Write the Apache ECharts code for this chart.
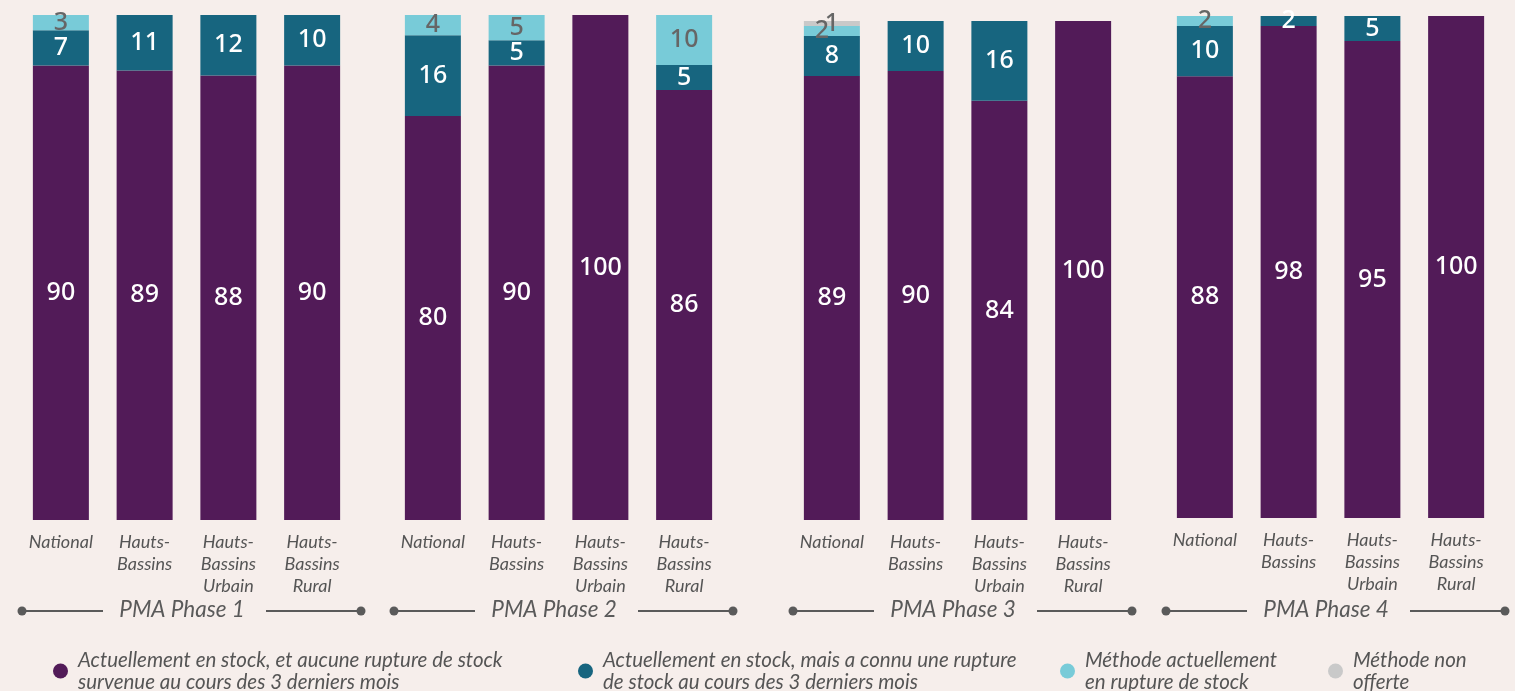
<!DOCTYPE html>
<html>
<head>
<meta charset="utf-8">
<script src="https://cdn.jsdelivr.net/npm/echarts@6/dist/echarts.min.js"></script>
<style>
    html, body {
        margin: 0;
        padding: 0;
        background: #f6eeeb;
    }
    #chart {
        width: 1515px;
        height: 691px;
    }
</style>
</head>
<body>
<div id="chart"></div>
<script>
    // categories and phases
    var categories = ['National', 'Hauts-\nBassins', 'Hauts-\nBassins\nUrbain', 'Hauts-\nBassins\nRural'];
    var phases = ['PMA Phase 1', 'PMA Phase 2', 'PMA Phase 3', 'PMA Phase 4'];
    var seriesNames = [
        'Actuellement en stock, et aucune rupture de stock\nsurvenue au cours des 3 derniers mois',
        'Actuellement en stock, mais a connu une rupture\nde stock au cours des 3 derniers mois',
        'Méthode actuellement\nen rupture de stock',
        'Méthode non\nofferte'
    ];

    // values per phase (National, HB, HB Urbain, HB Rural)
    var enStock        = [[90, 89, 88, 90], [80, 90, 100, 86], [89, 90, 84, 100], [88, 98, 95, 100]];
    var ruptureRecente = [[7, 11, 12, 10], [16, 5, 0, 5], [8, 10, 16, 0], [10, 2, 5, 0]];
    var enRupture      = [[3, 0, 0, 0], [4, 5, 0, 10], [2, 0, 0, 0], [2, 0, 0, 0]];
    var nonOfferte     = [[0, 0, 0, 0], [0, 0, 0, 0], [1, 0, 0, 0], [0, 0, 0, 0]];

    var colors = ['#521b58', '#17657f', '#78cbd8', '#c9c9c9'];
    var labelColors = ['#ffffff', '#ffffff', '#666666', '#666666'];

    var gridLeft = [19, 391, 790, 1163];
    var gridTop = [15, 15, 21, 16];
    var gridBottom = [171, 171, 171, 173];
    var gridWidth = 335;

    var chart = echarts.init(document.getElementById('chart'));

    var grids = [], xAxes = [], yAxes = [], series = [], graphics = [];
    var segments = [enStock, ruptureRecente, enRupture, nonOfferte];

    phases.forEach(function (ph, p) {
        grids.push({left: gridLeft[p], top: gridTop[p], bottom: gridBottom[p], width: gridWidth});
        xAxes.push({
            type: 'category',
            gridIndex: p,
            data: categories,
            axisLine: {show: false},
            axisTick: {show: false},
            axisLabel: {
                margin: 11,
                fontFamily: 'Lato',
                fontStyle: 'italic',
                fontSize: 18,
                lineHeight: 22,
                color: '#555555',
                interval: 0
            }
        });
        yAxes.push({type: 'value', gridIndex: p, min: 0, max: 100, show: false});

        // totals so each bar fills the full height
        var totals = categories.map(function (c, i) {
            return segments.reduce(function (s, arr) { return s + arr[p][i]; }, 0);
        });

        segments.forEach(function (arr, s) {
            var raw = arr[p];
            series.push({
                type: 'bar',
                name: seriesNames[s],
                xAxisIndex: p,
                yAxisIndex: p,
                stack: 'phase' + p,
                barWidth: 56,
                itemStyle: {color: colors[s]},
                label: {
                    show: true,
                    position: 'inside',
                    offset: (p === 2 && s === 2) ? [-10, 0] : [0, 0],
                    fontFamily: 'Noto Sans',
                    fontWeight: 500,
                    fontSize: 25,
                    color: labelColors[s],
                    formatter: function (d) {
                        var v = raw[d.dataIndex];
                        return v ? String(v) : '';
                    }
                },
                data: raw.map(function (v, i) { return v / totals[i] * 100; })
            });
        });

        // phase bracket under the categories
        var x0 = gridLeft[p];
        var lineStyle = {stroke: '#5a5a5a', lineWidth: 2};
        graphics.push(
            {type: 'line', shape: {x1: x0 + 3, y1: 611, x2: x0 + 84, y2: 611}, style: lineStyle},
            {type: 'circle', shape: {cx: x0 + 3, cy: 611, r: 4.5}, style: {fill: '#5a5a5a'}},
            {type: 'line', shape: {x1: x0 + 247, y1: 611, x2: x0 + 342, y2: 611}, style: lineStyle},
            {type: 'circle', shape: {cx: x0 + 342, cy: 611, r: 4.5}, style: {fill: '#5a5a5a'}},
            {
                type: 'text',
                x: x0 + 163,
                y: 610,
                style: {
                    text: ph,
                    fontFamily: 'Lato',
                    fontStyle: 'italic',
                    fontSize: 22.5,
                    fill: '#5a5a5a',
                    align: 'center',
                    verticalAlign: 'middle'
                }
            }
        );
    });

    // one legend per item, so each can sit where it is in the picture
    var legendLeft = [48, 573, 1055, 1323];
    var legends = seriesNames.map(function (n, s) {
        return {
            data: [n],
            left: legendLeft[s],
            top: 633,
            icon: 'circle',
            itemWidth: 15,
            itemHeight: 15,
            selectedMode: false,
            textStyle: {
                fontFamily: 'Lato',
                fontStyle: 'italic',
                fontSize: 20.5,
                lineHeight: 22,
                color: '#555555',
                padding: [22, 0, 0, 5]
            }
        };
    });

    chart.setOption({
        backgroundColor: '#f6eeeb',
        animation: false,
        grid: grids,
        xAxis: xAxes,
        yAxis: yAxes,
        legend: legends,
        series: series,
        graphic: graphics
    });
</script>
</body>
</html>
